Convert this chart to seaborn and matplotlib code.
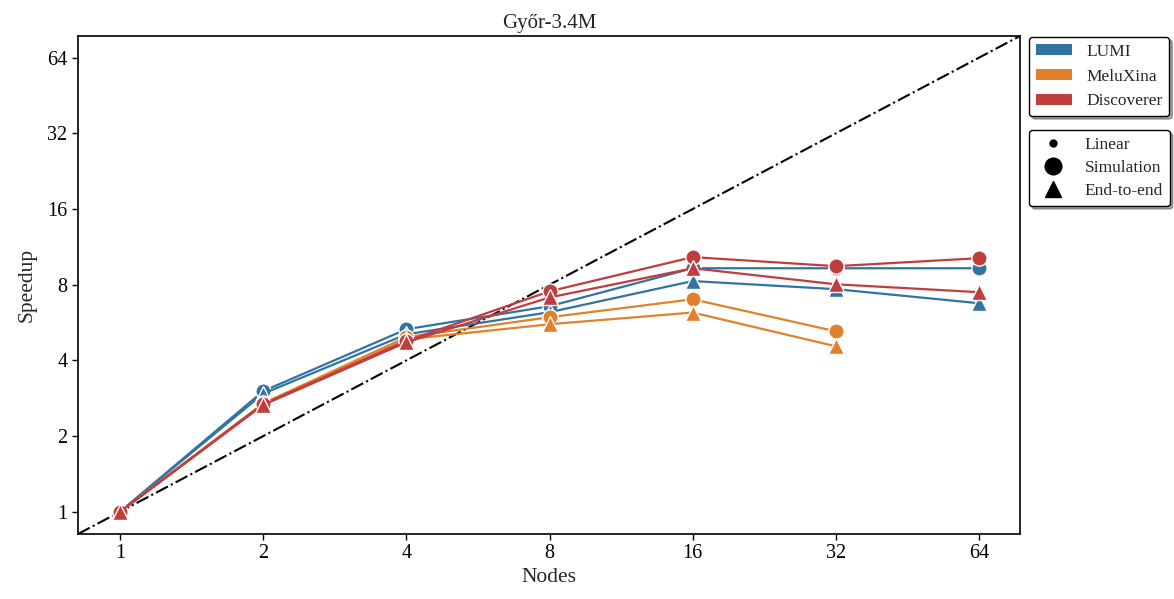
import numpy as np
import pandas as pd
import matplotlib
matplotlib.use("Agg")
import matplotlib.pyplot as plt
from matplotlib.patches import Patch
from matplotlib.lines import Line2D
import matplotlib.ticker as mticker
import seaborn as sns

title = "Győr-3.4M"
nodes = [1, 2, 4, 8, 16, 32, 64]
systems = ["LUMI", "MeluXina", "Discoverer"]
colors = ["#3274a1", "#e1812c", "#c03d3e"]

lumi_sim = [1.0, 3.02, 5.32, 6.57, 9.3, 9.3, 9.3]
lumi_e2e = [1.0, 2.95, 5.08, 6.22, 8.27, 7.68, 6.75]
melu_sim = [1.0, 2.70, 4.95, 5.94, 7.0, 5.22]
melu_e2e = [1.0, 2.68, 4.85, 5.57, 6.2, 4.55]
disc_sim = [1.0, 2.68, 4.78, 7.53, 10.3, 9.48, 10.2]
disc_e2e = [1.0, 2.66, 4.72, 7.12, 9.3, 8.03, 7.47]

series = {
    ("LUMI", "Simulation"): lumi_sim,
    ("LUMI", "End-to-end"): lumi_e2e,
    ("MeluXina", "Simulation"): melu_sim,
    ("MeluXina", "End-to-end"): melu_e2e,
    ("Discoverer", "Simulation"): disc_sim,
    ("Discoverer", "End-to-end"): disc_e2e,
}
rows = []
for (sysname, kind), vals in series.items():
    for n, v in zip(nodes, vals):
        rows.append({"Nodes": n, "Speedup": v, "System": sysname, "Type": kind})
df = pd.DataFrame(rows)

sns.set_style("ticks")
plt.rcParams["font.family"] = ["Liberation Serif", "DejaVu Serif"]
plt.rcParams["mathtext.fontset"] = "stix"

fig = plt.figure(figsize=(11.74, 5.99), dpi=100)
ax = fig.add_axes([78 / 1174, 1 - 534 / 599, (1020 - 78) / 1174, (534 - 36) / 599])

lim = (0.816, 78)
ax.plot(lim, lim, color="black", linestyle="-.", linewidth=1.5, zorder=1)

sns.lineplot(
    data=df, x="Nodes", y="Speedup", hue="System", style="Type",
    hue_order=systems, palette=colors, style_order=["Simulation", "End-to-end"],
    markers={"Simulation": "o", "End-to-end": "^"}, dashes=False,
    markersize=11, markeredgecolor="white", markeredgewidth=1.0,
    linewidth=1.6, legend=False, ax=ax, sort=False,
)

ax.set_xscale("log", base=2)
ax.set_yscale("log", base=2)
ax.set_xlim(*lim)
ax.set_ylim(*lim)
ax.xaxis.set_major_locator(mticker.FixedLocator(nodes))
ax.yaxis.set_major_locator(mticker.FixedLocator(nodes))
ax.xaxis.set_major_formatter(mticker.FixedFormatter([str(n) for n in nodes]))
ax.yaxis.set_major_formatter(mticker.FixedFormatter([str(n) for n in nodes]))
ax.xaxis.set_minor_locator(mticker.NullLocator())
ax.yaxis.set_minor_locator(mticker.NullLocator())
ax.tick_params(labelsize=14.5, length=4, width=1, colors="black")
for s in ax.spines.values():
    s.set_color("black")
    s.set_linewidth(1.2)
ax.set_xlabel("Nodes", fontsize=15.5, labelpad=3)
ax.set_ylabel("Speedup", fontsize=15.5, labelpad=8)
ax.set_title(title, fontsize=15, pad=6)

h1 = [Patch(facecolor=c, edgecolor="none") for c in colors]
leg1 = fig.legend(h1, systems, loc="upper left", bbox_to_anchor=(1029 / 1174, 1 - 37 / 599),
                  fontsize=12.5, frameon=True, fancybox=True, shadow=True,
                  edgecolor="black", framealpha=1, handlelength=2.1, handleheight=0.6,
                  labelspacing=0.5, handletextpad=0.8, borderaxespad=0)
h2 = [
    Line2D([], [], marker="o", color="black", linestyle="none", markersize=5),
    Line2D([], [], marker="o", color="black", linestyle="none", markersize=12),
    Line2D([], [], marker="^", color="black", linestyle="none", markersize=12),
]
leg2 = fig.legend(h2, ["Linear", "Simulation", "End-to-end"], loc="upper left",
                  bbox_to_anchor=(1029 / 1174, 1 - 130 / 599),
                  fontsize=12.5, frameon=True, fancybox=True, shadow=True,
                  edgecolor="black", framealpha=1, handlelength=2.0,
                  labelspacing=0.4, handletextpad=0.8, borderaxespad=0)

fig.savefig("out.png", dpi=100)
